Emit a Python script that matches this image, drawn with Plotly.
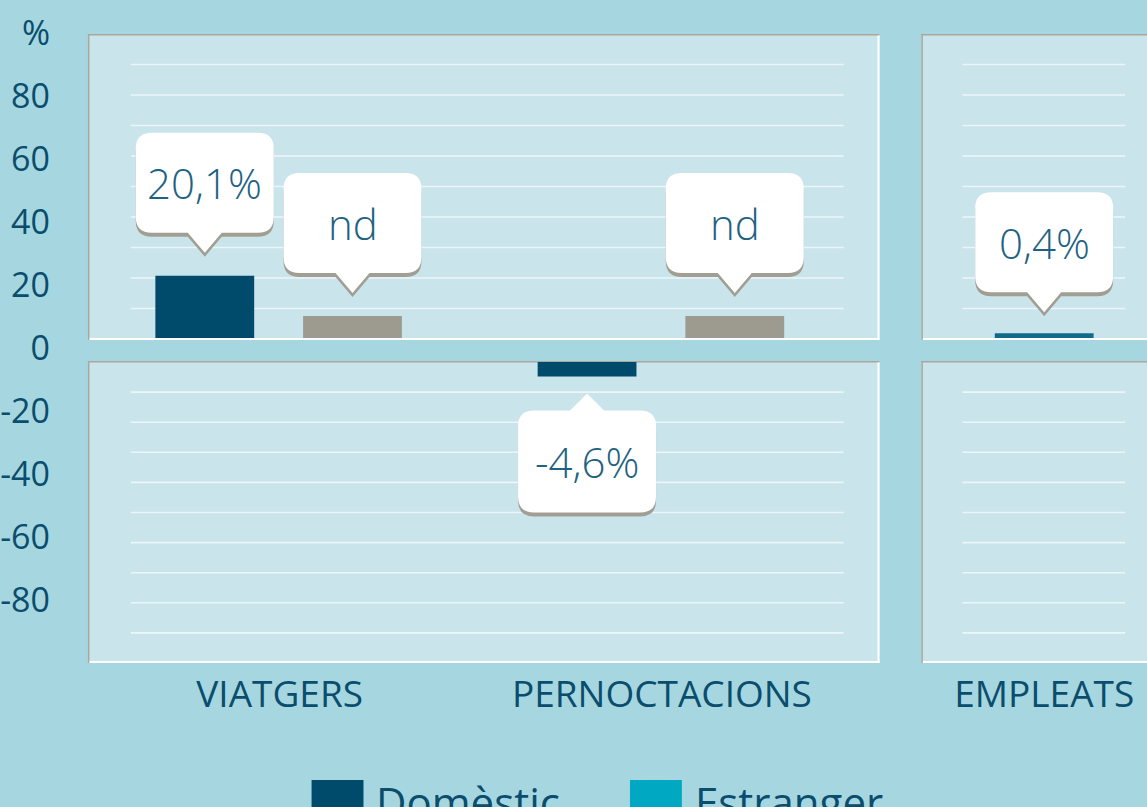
import plotly.graph_objects as go

# ---------------- data ----------------
categories = ["VIATGERS", "PERNOCTACIONS", "EMPLEATS"]
domestic = [20.1, -4.6, None]            # % variation, domestic market
estranger = [None, None, None]           # foreign market: no data (nd)
empleats = [None, None, 0.4]             # employment variation
domestic_labels = ["20,1%", "-4,6%", None]
estranger_labels = ["nd", "nd", None]
empleats_labels = [None, None, "0,4%"]
nd_placeholder = 7.3                     # height of the grey "nd" marker bar
y_tick_vals = [100, 80, 60, 40, 20, 0, -20, -40, -60, -80]
y_tick_text = ["%", "80", "60", "40", "20", "0", "-20", "-40", "-60", "-80"]
legend_names = ["Domèstic", "Estranger"]

# ---------------- style ----------------
BG = "#a6d7e0"
PANEL = "#c9e5eb"
GRID = "#ecf6f8"
BORDER_GREY = "#aaa79d"
DOM_C = "#004a6b"
EST_C = "#00a8c1"
ND_C = "#9d9b90"
EMP_C = "#0f6b88"
TXT_C = "#0b4d6d"
BUB_TXT = "#1e6282"
SHADOW = "#a19e94"
FONT = "Open Sans"

W, H = 1147, 807
ML, MR, MT, MB = 86, 0, 20, 144
PW, PH = W - ML - MR, H - MT - MB
PX_PER_UNIT = 3.15
CAT_PX0, CAT_STEP = 278, 383      # pixel position of first category, pixels per category


def xp(px):
    return (px - ML) / PW


def yp(py):
    return (H - MB - py) / PH


TOP_BASE, TOP_TOP = 339, 34
BOT_BASE, BOT_BOT = 362, 663
ZERO_LABEL_PX = 348

bar_w = 99 / CAT_STEP
dom_center = -75 / CAT_STEP
est_center = 73 / CAT_STEP
x_idx = list(range(len(categories)))

fig = go.Figure()

dom_pos = [v if (v is not None and v > 0) else None for v in domestic]
dom_neg = [v if (v is not None and v < 0) else None for v in domestic]
nd_vals = [nd_placeholder if lbl == "nd" else None for lbl in estranger_labels]

fig.add_trace(go.Bar(x=x_idx, y=dom_pos, xaxis="x", yaxis="y", width=bar_w,
                     offset=dom_center - bar_w / 2, marker=dict(color=DOM_C, line=dict(width=0)),
                     showlegend=False, hoverinfo="skip"))
fig.add_trace(go.Bar(x=x_idx, y=dom_neg, xaxis="x", yaxis="y2", width=bar_w,
                     offset=dom_center - bar_w / 2, marker=dict(color=DOM_C, line=dict(width=0)),
                     showlegend=False, hoverinfo="skip"))
fig.add_trace(go.Bar(x=x_idx, y=nd_vals, xaxis="x", yaxis="y", width=bar_w,
                     offset=est_center - bar_w / 2, marker=dict(color=ND_C, line=dict(width=0)),
                     showlegend=False, hoverinfo="skip"))
EMP_LW = 9
emp_w = (99 - EMP_LW) / CAT_STEP
fig.add_trace(go.Bar(x=x_idx, y=empleats, xaxis="x", yaxis="y", width=emp_w,
                     offset=-emp_w / 2, marker=dict(color=EMP_C, line=dict(width=EMP_LW, color=EMP_C)),
                     showlegend=False, hoverinfo="skip"))
# carrier for the left tick-label axis
fig.add_trace(go.Scatter(x=[None], y=[None], xaxis="x", yaxis="y3", showlegend=False,
                         hoverinfo="skip", mode="markers"))

shapes = []
annotations = []

# ---------------- panels ----------------
panels = [(86, 879, 34, 340, 129, 843, TOP_BASE, -30.5),
          (86, 879, 361, 663, 129, 843, BOT_BASE, 30.1),
          (921, 1200, 34, 340, 962, 1125, TOP_BASE, -30.5),
          (921, 1200, 361, 663, 962, 1125, BOT_BASE, 30.1)]
for x0, x1, y0, y1, gx0, gx1, gbase, gstep in panels:
    shapes.append(dict(type="rect", xref="paper", yref="paper", layer="below",
                       x0=xp(x0), x1=xp(x1), y0=yp(y1), y1=yp(y0),
                       fillcolor=PANEL, line=dict(width=0)))
    for i in range(1, 10):
        gy = gbase + gstep * i
        shapes.append(dict(type="line", xref="paper", yref="paper", layer="below",
                           x0=xp(gx0), x1=xp(gx1), y0=yp(gy), y1=yp(gy),
                           line=dict(color=GRID, width=1.6)))
    shapes.append(dict(type="line", xref="paper", yref="paper", layer="below",
                       x0=xp(x0), x1=xp(x1), y0=yp(y0 + 0.7), y1=yp(y0 + 0.7),
                       line=dict(color=BORDER_GREY, width=1.5)))
    shapes.append(dict(type="line", xref="paper", yref="paper", layer="below",
                       x0=xp(x0 + 0.7), x1=xp(x0 + 0.7), y0=yp(y0), y1=yp(y1),
                       line=dict(color=BORDER_GREY, width=1.5)))
    shapes.append(dict(type="line", xref="paper", yref="paper", layer="above",
                       x0=xp(x0 + 1.5), x1=xp(x1), y0=yp(y1 - 1), y1=yp(y1 - 1),
                       line=dict(color="white", width=2)))
    shapes.append(dict(type="line", xref="paper", yref="paper", layer="below",
                       x0=xp(x1 - 1), x1=xp(x1 - 1), y0=yp(y0 + 1.5), y1=yp(y1),
                       line=dict(color="white", width=2)))


# ---------------- callout bubbles ----------------
def bubble_path(direction, gap, ph, bh, hw=69, pw=17, r=16, dy=0):
    s = direction

    def Y(v):
        return s * v + dy
    yb = gap + ph
    yt = yb + bh
    return (f"M{-pw},{Y(yb)} L0,{Y(gap)} L{pw},{Y(yb)} L{hw - r},{Y(yb)} "
            f"Q{hw},{Y(yb)} {hw},{Y(yb + r)} L{hw},{Y(yt - r)} "
            f"Q{hw},{Y(yt)} {hw - r},{Y(yt)} L{-hw + r},{Y(yt)} "
            f"Q{-hw},{Y(yt)} {-hw},{Y(yt - r)} L{-hw},{Y(yb + r)} "
            f"Q{-hw},{Y(yb)} {-hw + r},{Y(yb)} Z")


def add_bubble(xc, val, axis, text, extra=0):
    if val >= 0:
        d, gap, ph, bh = 1, 23 + extra, 20, 100
    else:
        d, gap, ph, bh = -1, 17 + extra, 17, 102
    for fill, dy in ((SHADOW, -4), ("white", 0)):
        shapes.append(dict(type="path", xref="x", yref=axis, layer="above",
                           xsizemode="pixel", ysizemode="pixel",
                           xanchor=xc, yanchor=val,
                           path=bubble_path(d, gap, ph, bh, dy=dy),
                           fillcolor=fill, line=dict(width=0)))
    annotations.append(dict(x=xc, y=val, xref="x", yref=axis, text=text, showarrow=False,
                            yshift=d * (gap + ph + bh / 2),
                            font=dict(family=FONT, size=42, color=BUB_TXT, weight=300)))


for i in x_idx:
    if domestic[i] is not None:
        add_bubble(i + dom_center, domestic[i], "y" if domestic[i] > 0 else "y2", domestic_labels[i])
    if nd_vals[i] is not None:
        add_bubble(i + est_center, nd_vals[i], "y", estranger_labels[i])
    if empleats[i] is not None:
        add_bubble(i, empleats[i], "y", empleats_labels[i], extra=EMP_LW / 2 - 2)

# ---------------- custom legend ----------------
legend_items = [(legend_names[0], DOM_C, 310), (legend_names[1], EST_C, 629)]
for name, col, lx in legend_items:
    shapes.append(dict(type="rect", xref="paper", yref="paper", layer="above",
                       x0=xp(lx), x1=xp(lx + 52), y0=yp(832), y1=yp(780),
                       fillcolor=col, line=dict(width=0)))
    annotations.append(dict(x=xp(lx + 63), y=yp(801), xref="paper", yref="paper",
                            xanchor="left", yanchor="middle", text=name, showarrow=False,
                            font=dict(family=FONT, size=42, color=TXT_C)))

fig.update_layout(
    width=W, height=H,
    margin=dict(l=ML, r=MR, t=MT, b=MB, pad=0),
    paper_bgcolor=BG, plot_bgcolor="rgba(0,0,0,0)",
    barmode="overlay", showlegend=False,
    shapes=shapes, annotations=annotations,
    xaxis=dict(domain=[0, 1], anchor="y2",
               range=[(ML - CAT_PX0) / CAT_STEP, (W - MR - CAT_PX0) / CAT_STEP],
               tickmode="array", tickvals=x_idx, ticktext=categories,
               showgrid=False, zeroline=False, showline=False, ticks="",
               ticklabelstandoff=6,
               tickfont=dict(family=FONT, size=37, color=TXT_C)),
    yaxis=dict(domain=[yp(TOP_BASE), yp(TOP_TOP)], anchor="x",
               range=[0, (TOP_BASE - TOP_TOP) / PX_PER_UNIT], visible=False),
    yaxis2=dict(domain=[yp(BOT_BOT), yp(BOT_BASE)], anchor="x",
                range=[-(BOT_BOT - BOT_BASE) / PX_PER_UNIT, 0], visible=False),
    yaxis3=dict(domain=[0, 1], anchor="x",
                range=[-(H - MB - ZERO_LABEL_PX) / PX_PER_UNIT, (ZERO_LABEL_PX - MT) / PX_PER_UNIT],
                tickmode="array", tickvals=y_tick_vals, ticktext=y_tick_text,
                showgrid=False, zeroline=False, showline=False, ticks="",
                ticklabelstandoff=37,
                tickfont=dict(family=FONT, size=34, color=TXT_C)),
)

fig.write_html("out.html", config={"displayModeBar": False},
               post_script="document.body.style.margin='0px';")
